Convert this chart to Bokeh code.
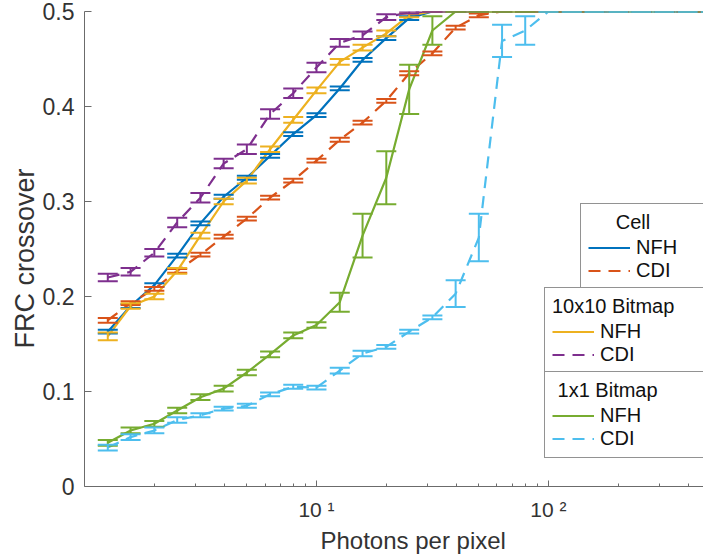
from bokeh.plotting import figure
from bokeh.models import (ColumnDataSource, Whisker, TeeHead, Legend, LegendItem,
                          FixedTicker, Title, Range1d, NumeralTickFormatter)
from bokeh.embed import file_html
from bokeh.resources import INLINE

# ---------------- data ----------------
photons = [1.26, 1.58, 2.0, 2.51, 3.16, 3.98, 5.01, 6.31, 7.94, 10.0,
           12.6, 15.8, 20.0, 25.1, 31.6, 39.8, 50.1, 63.1, 79.4, 100.0,
           126.0, 158.0, 200.0, 251.0, 316.0, 398.0, 501.0]

cell_nfh = [0.163, 0.190, 0.212, 0.243, 0.277, 0.305, 0.325, 0.348, 0.371, 0.391,
            0.419, 0.449, 0.472, 0.493, 0.5, 0.5, 0.5, 0.5, 0.5, 0.5,
            0.5, 0.5, 0.5, 0.5, 0.5, 0.5, 0.5]
cell_nfh_err = [0.002, 0.002, 0.002, 0.002, 0.002, 0.002, 0.002, 0.002, 0.002, 0.002,
                0.002, 0.002, 0.002, 0.002, 0, 0, 0, 0, 0, 0,
                0, 0, 0, 0, 0, 0, 0]

cell_cdi = [0.175, 0.193, 0.208, 0.227, 0.244, 0.263, 0.282, 0.304, 0.322, 0.343,
            0.365, 0.383, 0.406, 0.435, 0.456, 0.483, 0.496, 0.5, 0.5, 0.5,
            0.5, 0.5, 0.5, 0.5, 0.5, 0.5, 0.5]
cell_cdi_err = [0.0025, 0.002, 0.002, 0.002, 0.002, 0.002, 0.002, 0.002, 0.002, 0.002,
                0.002, 0.002, 0.002, 0.002, 0.002, 0.002, 0.002, 0, 0, 0,
                0, 0, 0, 0, 0, 0, 0]

bmp10_nfh = [0.158, 0.190, 0.200, 0.227, 0.264, 0.300, 0.322, 0.355, 0.386, 0.417,
             0.447, 0.462, 0.477, 0.496, 0.5, 0.5, 0.5, 0.5, 0.5, 0.5,
             0.5, 0.5, 0.5, 0.5, 0.5, 0.5, 0.5]
bmp10_nfh_err = [0.004, 0.003, 0.003, 0.003, 0.003, 0.003, 0.003, 0.003, 0.003, 0.003,
                 0.003, 0.003, 0.003, 0.002, 0, 0, 0, 0, 0, 0,
                 0, 0, 0, 0, 0, 0, 0]

bmp10_cdi = [0.220, 0.226, 0.246, 0.278, 0.304, 0.340, 0.355, 0.392, 0.414, 0.441,
             0.467, 0.475, 0.494, 0.499, 0.5, 0.5, 0.5, 0.5, 0.5, 0.5,
             0.5, 0.5, 0.5, 0.5, 0.5, 0.5, 0.5]
bmp10_cdi_err = [0.004, 0.004, 0.004, 0.005, 0.005, 0.005, 0.005, 0.005, 0.005, 0.005,
                 0.004, 0.004, 0.003, 0.001, 0, 0, 0, 0, 0, 0,
                 0, 0, 0, 0, 0, 0, 0]

bmp1_nfh = [0.046, 0.059, 0.066, 0.080, 0.094, 0.103, 0.120, 0.139, 0.159, 0.170,
            0.194, 0.264, 0.325, 0.418, 0.480, 0.5, 0.5, 0.5, 0.5, 0.5,
            0.5, 0.5, 0.5, 0.5, 0.5, 0.5, 0.5]
bmp1_nfh_err = [0.003, 0.003, 0.003, 0.003, 0.003, 0.003, 0.003, 0.003, 0.003, 0.003,
                0.010, 0.023, 0.028, 0.026, 0.015, 0, 0, 0, 0, 0,
                0, 0, 0, 0, 0, 0, 0]

bmp1_cdi = [0.041, 0.052, 0.059, 0.070, 0.075, 0.082, 0.085, 0.097, 0.105, 0.104,
            0.122, 0.140, 0.147, 0.163, 0.178, 0.203, 0.262, 0.469, 0.480, 0.5,
            0.5, 0.5, 0.5, 0.5, 0.5, 0.5, 0.5]
bmp1_cdi_err = [0.003, 0.003, 0.003, 0.003, 0.002, 0.002, 0.002, 0.002, 0.002, 0.002,
                0.003, 0.003, 0.002, 0.002, 0.002, 0.014, 0.025, 0.017, 0.015, 0,
                0, 0, 0, 0, 0, 0, 0]

y_ticks = [0, 0.1, 0.2, 0.3, 0.4, 0.5]
x_major = [10, 100]
x_minor = [2, 3, 4, 5, 6, 7, 8, 9, 20, 30, 40, 50, 60, 70, 80, 90, 200, 300, 400]

FONT = "Liberation Sans"
TXT = "#333333"

p = figure(width=703, height=560, x_axis_type="log",
           x_range=Range1d(1, 466), y_range=Range1d(0, 0.5),
           output_backend="svg", toolbar_location=None,
           min_border_left=84, min_border_right=0, min_border_top=11,
           min_border_bottom=74)
p.outline_line_color = None
p.xgrid.visible = False
p.ygrid.visible = False
p.background_fill_color = "white"
p.border_fill_color = "white"

for ax in (p.xaxis[0], p.yaxis[0]):
    ax.axis_line_color = "#6b6b6b"
    ax.axis_line_width = 1
    ax.major_tick_line_color = "#6b6b6b"
    ax.minor_tick_line_color = "#6b6b6b"
    ax.major_tick_out = 0
    ax.minor_tick_out = 0
    ax.major_label_text_font = FONT
    ax.major_label_text_color = TXT

p.xaxis.ticker = FixedTicker(ticks=x_major, minor_ticks=x_minor)
p.xaxis.major_label_overrides = {10: "10 \u00b9", 100: "10 \u00b2"}
p.xaxis.major_label_text_font_size = "21px"
p.xaxis.major_tick_in = 6
p.xaxis.minor_tick_in = 3
p.xaxis.major_label_standoff = 11

p.yaxis.ticker = FixedTicker(ticks=y_ticks, minor_ticks=[])
p.yaxis.formatter = NumeralTickFormatter(format="0.[0]")
p.yaxis.major_label_text_font_size = "23px"
p.yaxis.major_tick_in = 7
p.yaxis.major_label_standoff = 10

ylabel = Title(text="FRC crossover", align="left", offset=138,
               text_font=FONT, text_font_size="27px", text_font_style="normal",
               text_color=TXT, standoff=0)
p.add_layout(ylabel, "left")

xlabel = Title(text="Photons per pixel", align="left", offset=236,
               text_font=FONT, text_font_size="24px", text_font_style="normal",
               text_color=TXT, standoff=3)
p.add_layout(xlabel, "below")

series = [
    (cell_nfh, cell_nfh_err, "#0072BD", False),
    (cell_cdi, cell_cdi_err, "#D95319", True),
    (bmp10_nfh, bmp10_nfh_err, "#EDB120", False),
    (bmp10_cdi, bmp10_cdi_err, "#7E2F8E", True),
    (bmp1_nfh, bmp1_nfh_err, "#77AC30", False),
    (bmp1_cdi, bmp1_cdi_err, "#4DBEEE", True),
]

renderers = []
for vals, errs, col, dashed in series:
    src = ColumnDataSource(dict(
        x=photons, y=vals,
        upper=[v + e for v, e in zip(vals, errs)],
        lower=[v - e for v, e in zip(vals, errs)]))
    r = p.line("x", "y", source=src, line_color=col, line_width=2.2,
               line_dash="12 8" if dashed else "solid")
    w = Whisker(base="x", upper="upper", lower="lower", source=src,
                line_color=col, line_width=2, level="glyph",
                upper_head=TeeHead(size=20, line_color=col, line_width=2),
                lower_head=TeeHead(size=20, line_color=col, line_width=2))
    p.add_layout(w)
    renderers.append(r)

NB = "\u00a0"


def make_legend(title, r1, r2, loc, label_width):
    leg = Legend(items=[LegendItem(label="NFH", renderers=[r1]),
                        LegendItem(label="CDI", renderers=[r2])],
                 title=title, location=loc, orientation="vertical")
    leg.title_text_font = FONT
    leg.title_text_font_size = "20px"
    leg.title_text_font_style = "normal"
    leg.title_text_color = "#111111"
    leg.title_standoff = 2
    leg.label_text_font = FONT
    leg.label_text_font_size = "20px"
    leg.label_text_color = "#111111"
    leg.label_standoff = 6
    leg.label_width = label_width
    leg.label_height = 23
    leg.glyph_width = 42
    leg.glyph_height = 23
    leg.spacing = 0
    leg.padding = 7
    leg.margin = 0
    leg.border_line_color = "#262626"
    leg.border_line_width = 1
    leg.background_fill_color = "white"
    leg.background_fill_alpha = 1
    return leg


leg1 = make_legend(NB * 5 + "Cell", renderers[0], renderers[1], (496, 196), 70)
leg2 = make_legend("10x10 Bitmap", renderers[2], renderers[3], (460, 112), 110)
leg3 = make_legend(NB + "1x1 Bitmap", renderers[4], renderers[5], (460, 28), 110)
p.add_layout(leg1)
p.add_layout(leg2)
p.add_layout(leg3)

open("out.html", "w").write(file_html(p, INLINE))
